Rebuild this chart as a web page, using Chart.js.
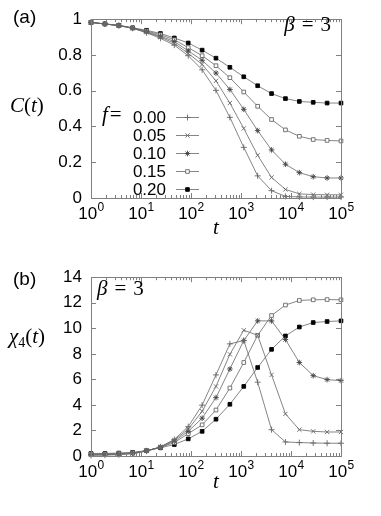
<!DOCTYPE html>
<html>
<head>
<meta charset="utf-8">
<script src="https://cdn.jsdelivr.net/npm/chart.js@4.4.0/dist/chart.umd.min.js"></script>
<style>
  body { margin: 0; background: #fff; }
  .panel { position: absolute; left: 0; width: 381px; height: 258px; }
</style>
</head>
<body>
<div class="panel" style="top:0"><canvas id="chartA"></canvas></div>
<div class="panel" style="top:258px"><canvas id="chartB"></canvas></div>
<script>
// sampling times (log spaced, 1 .. 1e5)
const times = [1, 1.9, 3.6, 6.8, 12.9, 24.5, 46.4, 88, 167, 316, 599, 1136, 2154, 4084, 7743, 14678, 27826, 52749, 100000];
const fLabels = ['0.00', '0.05', '0.10', '0.15', '0.20'];

// (a) C(t)
const corr000 = [0.982, 0.973, 0.964, 0.949, 0.924, 0.893, 0.855, 0.796, 0.717, 0.602, 0.451, 0.283, 0.124, 0.041, 0.009, 0.006, 0.005, 0.005, 0.005];
const corr005 = [0.982, 0.973, 0.964, 0.950, 0.927, 0.900, 0.865, 0.809, 0.747, 0.655, 0.531, 0.389, 0.239, 0.115, 0.048, 0.023, 0.019, 0.018, 0.018];
const corr010 = [0.982, 0.973, 0.965, 0.950, 0.930, 0.905, 0.875, 0.823, 0.770, 0.699, 0.607, 0.496, 0.377, 0.269, 0.189, 0.142, 0.119, 0.112, 0.112];
const corr015 = [0.982, 0.973, 0.965, 0.951, 0.934, 0.913, 0.885, 0.841, 0.796, 0.740, 0.673, 0.593, 0.513, 0.439, 0.381, 0.345, 0.327, 0.322, 0.319];
const corr020 = [0.982, 0.974, 0.966, 0.952, 0.938, 0.920, 0.895, 0.867, 0.827, 0.782, 0.731, 0.678, 0.628, 0.584, 0.556, 0.540, 0.535, 0.531, 0.531];

// (b) chi_4(t)
const chi000 = [0.05, 0.07, 0.10, 0.18, 0.38, 0.72, 1.30, 2.30, 3.98, 6.35, 8.78, 9.04, 5.78, 2.06, 1.10, 1.05, 1.02, 1.00, 1.00];
const chi005 = [0.08, 0.10, 0.13, 0.20, 0.40, 0.70, 1.25, 2.10, 3.50, 5.45, 7.96, 9.85, 9.45, 6.35, 3.30, 2.06, 1.93, 1.88, 1.88];
const chi010 = [0.12, 0.13, 0.17, 0.23, 0.42, 0.68, 1.16, 1.93, 2.96, 4.57, 6.81, 9.04, 10.58, 10.58, 9.12, 7.32, 6.29, 5.98, 5.90];
const chi015 = [0.16, 0.17, 0.20, 0.25, 0.42, 0.68, 1.05, 1.75, 2.44, 3.60, 5.32, 7.32, 9.45, 11.00, 11.82, 12.18, 12.23, 12.25, 12.23];
const chi020 = [0.20, 0.20, 0.23, 0.28, 0.41, 0.64, 0.90, 1.34, 1.93, 2.88, 4.05, 5.45, 6.93, 8.35, 9.40, 10.10, 10.45, 10.53, 10.58];

const xDecades = [0, 1, 2, 3, 4, 5];

const SANS = '"Liberation Sans", Arial, sans-serif';
const SERIF = '"Liberation Serif", "Times New Roman", serif';

const markers = [
  { pointStyle: 'cross',    radius: 3,   border: '#666', fill: '#666' },
  { pointStyle: 'crossRot', radius: 3,   border: '#666', fill: '#666' },
  { pointStyle: 'star',     radius: 2.8, border: '#444', fill: '#444' },
  { pointStyle: 'rect',     radius: 2.6, border: '#666', fill: '#fff' },
  { pointStyle: 'rect',     radius: 2.6, border: '#000', fill: '#000' }
];

function makeDatasets(seriesList) {
  return seriesList.map((vals, i) => ({
    label: fLabels[i],
    data: times.map((t, k) => ({ x: t, y: vals[k] })),
    borderColor: '#666',
    borderWidth: 0.8,
    pointStyle: markers[i].pointStyle,
    pointRadius: markers[i].radius,
    pointBorderColor: markers[i].border,
    pointBackgroundColor: markers[i].fill,
    pointBorderWidth: 0.9,
    tension: 0,
    clip: false
  }));
}

// draws a run of text pieces with their own fonts
function rich(ctx, parts, x, y, align) {
  let w = 0;
  parts.forEach(p => { ctx.font = p.f; w += ctx.measureText(p.t).width + (p.gap || 0); });
  let cx = align === 'right' ? x - w : align === 'center' ? x - w / 2 : x;
  ctx.textBaseline = 'alphabetic';
  ctx.textAlign = 'left';
  parts.forEach(p => {
    ctx.font = p.f;
    ctx.fillText(p.t, cx, y + (p.dy || 0));
    cx += ctx.measureText(p.t).width + (p.gap || 0);
  });
}

// gnuplot style frame, inward ticks and 10^n labels
const framePlugin = {
  id: 'frame',
  afterDraw(chart) {
    const { ctx, chartArea: a, scales } = chart;
    const xs = scales.x, ys = scales.y;
    ctx.save();
    ctx.strokeStyle = '#808080';
    ctx.lineWidth = 1;
    const seg = (x1, y1, x2, y2) => { ctx.beginPath(); ctx.moveTo(x1, y1); ctx.lineTo(x2, y2); ctx.stroke(); };
    ctx.strokeRect(Math.round(a.left) + 0.5, Math.round(a.top) + 0.5, Math.round(a.width), Math.round(a.height));
    ys.ticks.forEach(t => {
      const y = Math.round(ys.getPixelForValue(t.value)) + 0.5;
      seg(a.left, y, a.left + 5, y);
      seg(a.right - 5, y, a.right, y);
    });
    for (let e = 0; e < 5; e++) {
      for (let m = 1; m < 10; m++) {
        const x = Math.round(xs.getPixelForValue(m * Math.pow(10, e))) + 0.5;
        const len = m === 1 ? 5 : 3;
        seg(x, a.bottom, x, a.bottom - len);
        seg(x, a.top, x, a.top + len);
      }
    }
    ctx.fillStyle = '#000';
    xDecades.forEach(e => {
      const x = xs.getPixelForValue(Math.pow(10, e));
      ctx.font = '17px ' + SANS;
      const w1 = ctx.measureText('10').width;
      ctx.font = '12px ' + SANS;
      const w2 = ctx.measureText(String(e)).width;
      const x0 = x - (w1 + w2) / 2;
      ctx.textAlign = 'left';
      ctx.textBaseline = 'alphabetic';
      ctx.font = '17px ' + SANS;
      ctx.fillText('10', x0, a.bottom + 21);
      ctx.font = '12px ' + SANS;
      ctx.fillText(String(e), x0 + w1 + 0.5, a.bottom + 13);
    });
    ctx.restore();
  }
};

function baseOptions(yMax, yStep, topPad, fmt) {
  return {
    responsive: true,
    maintainAspectRatio: false,
    animation: false,
    layout: { padding: { top: topPad, right: 40, left: 0, bottom: 0 } },
    plugins: { legend: { display: false }, tooltip: { enabled: false } },
    scales: {
      x: {
        type: 'logarithmic', min: 1, max: 100000,
        grid: { display: false, drawTicks: false },
        border: { display: false },
        ticks: { display: false },
        afterFit: s => { s.height = 60; }
      },
      y: {
        min: 0, max: yMax,
        grid: { display: false, drawTicks: false },
        border: { display: false },
        ticks: { stepSize: yStep, padding: 9, color: '#000', font: { family: SANS, size: 17 }, callback: fmt },
        afterFit: s => { s.width = 91; }
      }
    }
  };
}

const annotA = {
  id: 'annotA',
  afterDraw(chart) {
    const ctx = chart.ctx;
    const a = chart.chartArea;
    ctx.save();
    ctx.fillStyle = '#000';
    ctx.font = '19px ' + SANS; ctx.textAlign = 'left'; ctx.textBaseline = 'middle';
    ctx.fillText('(a)', 13, 18);
    const it = '21px ' + SERIF, itI = 'italic 21px ' + SERIF;
    rich(ctx, [{ t: 'C', f: itI }, { t: '(', f: it }, { t: 't', f: itI }, { t: ')', f: it }], 10, 112, 'left');
    rich(ctx, [{ t: 't', f: itI }], (a.left + a.right) / 2, 234, 'center');
    rich(ctx, [{ t: 'β', f: itI, gap: 7 }, { t: '=', f: it, gap: 7 }, { t: '3', f: it }], 331, 31, 'right');
    rich(ctx, [{ t: 'f', f: itI, gap: 2 }, { t: '=', f: it }], 102, 121, 'left');
    // legend
    chart.data.datasets.forEach((ds, i) => {
      const y = 117 + 18 * i;
      ctx.font = '17px ' + SANS; ctx.textAlign = 'right'; ctx.textBaseline = 'middle';
      ctx.fillStyle = '#000';
      ctx.fillText(ds.label, 166, y + 1);
      ctx.strokeStyle = '#666'; ctx.lineWidth = 0.8;
      ctx.beginPath(); ctx.moveTo(176, y + 0.5); ctx.lineTo(199, y + 0.5); ctx.stroke();
      ctx.strokeStyle = ds.pointBorderColor; ctx.fillStyle = ds.pointBackgroundColor; ctx.lineWidth = 0.9;
      Chart.helpers.drawPoint(ctx, { pointStyle: ds.pointStyle, radius: ds.pointRadius, rotation: 0, borderWidth: 0.9 }, 187.5, y + 0.5);
    });
    ctx.restore();
  }
};

const annotB = {
  id: 'annotB',
  afterDraw(chart) {
    const ctx = chart.ctx;
    const a = chart.chartArea;
    ctx.save();
    ctx.fillStyle = '#000';
    ctx.font = '19px ' + SANS; ctx.textAlign = 'left'; ctx.textBaseline = 'middle';
    ctx.fillText('(b)', 13, 22);
    const it = '21px ' + SERIF, itI = 'italic 21px ' + SERIF;
    rich(ctx, [{ t: 'χ', f: itI }, { t: '4', f: '14px ' + SERIF, dy: 4 }, { t: '(', f: it }, { t: 't', f: itI }, { t: ')', f: it }], 9, 85, 'left');
    rich(ctx, [{ t: 't', f: itI }], (a.left + a.right) / 2, 230, 'center');
    rich(ctx, [{ t: 'β', f: itI, gap: 7 }, { t: '=', f: it, gap: 7 }, { t: '3', f: it }], 97, 37, 'left');
    ctx.restore();
  }
};

const fmtA = v => (v === 0 || v === 1) ? String(v) : v.toFixed(1);
const fmtB = v => String(Math.round(v));

new Chart(document.getElementById('chartA'), {
  type: 'line',
  data: { datasets: makeDatasets([corr000, corr005, corr010, corr015, corr020]) },
  options: baseOptions(1, 0.2, 10, fmtA),
  plugins: [framePlugin, annotA]
});

new Chart(document.getElementById('chartB'), {
  type: 'line',
  data: { datasets: makeDatasets([chi000, chi005, chi010, chi015, chi020]) },
  options: baseOptions(14, 2, 17, fmtB),
  plugins: [framePlugin, annotB]
});
</script>
</body>
</html>
